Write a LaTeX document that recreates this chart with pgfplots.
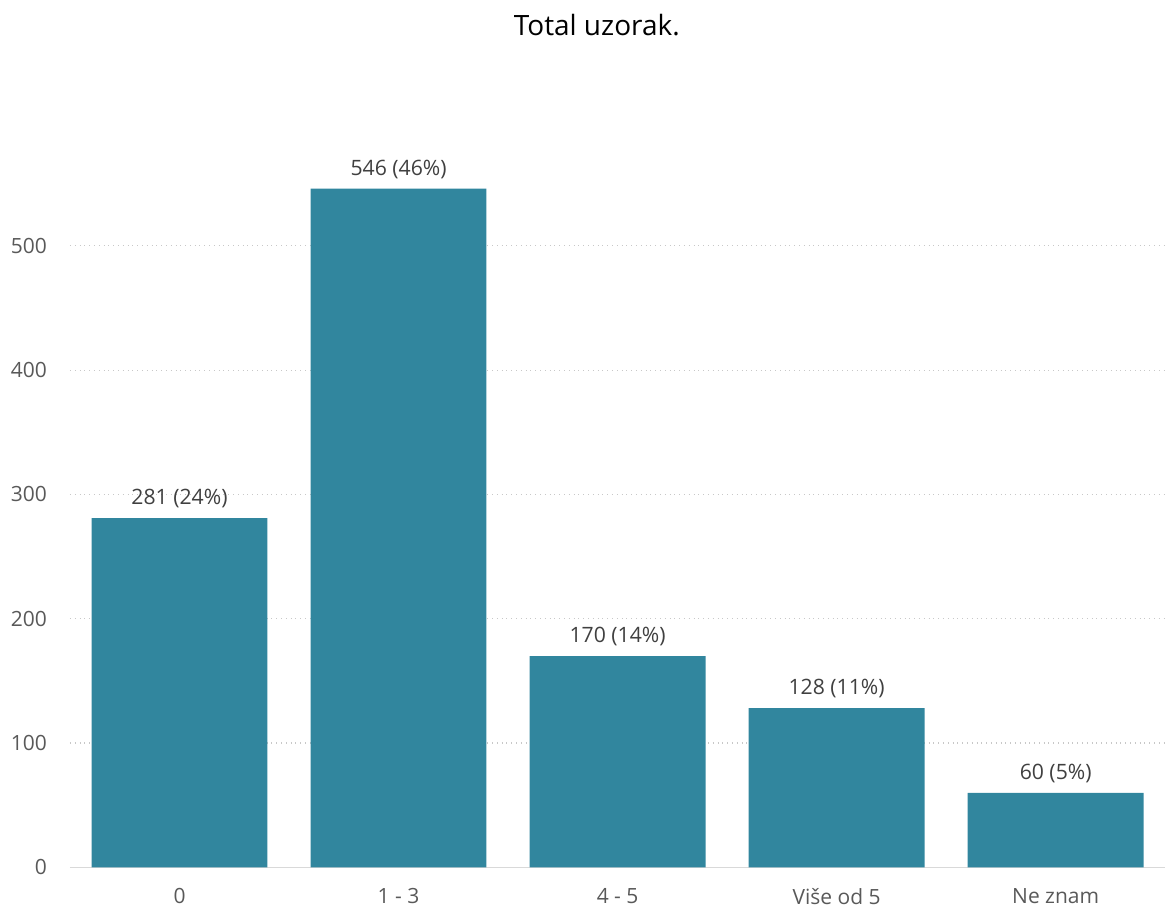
\documentclass[border=0pt]{standalone}
\usepackage{pgfplots}
\pgfplotsset{compat=1.18}
\usepackage{fontspec}
\setmainfont{Open Sans}
\definecolor{barc}{HTML}{31869E}
\definecolor{txt}{HTML}{404040}
\definecolor{tick}{HTML}{595959}
\definecolor{grid}{HTML}{C8C8C8}
\definecolor{axl}{HTML}{D9D9D9}
\begin{document}
\begin{tikzpicture}
\begin{axis}[
  scale only axis,
  width=548pt, height=373.2pt,
  xmin=-0.5, xmax=4.5, ymin=0, ymax=600,
  axis lines*=left,
  y axis line style={draw=none},
  x axis line style={draw=axl, line width=0.8pt, -},
  xtick={0,1,2,3,4},
  xticklabels={0, 1 - 3, 4 - 5, Više od 5, Ne znam},
  major tick length=0pt,
  tick style={draw=none},
  ytick={0,100,200,300,400,500},
  ymajorgrids, grid style={draw=grid, dotted, line width=0.6pt},
  xticklabel style={font=\fontsize{10.5}{12}\selectfont, text=tick, yshift=-10.5pt, inner sep=0pt},
  yticklabel style={font=\fontsize{10.5}{12}\selectfont, text=tick, xshift=-8pt},
  /pgf/number format/assume math mode=true,
  clip=false,
  ybar, bar width=88pt,
  nodes near coords,
  point meta=explicit symbolic,
  nodes near coords style={font=\fontsize{10.6}{12}\selectfont, text=txt, anchor=south, yshift=1.5pt},
]
\addplot[fill=barc, draw=none] table[meta=lab, col sep=comma] {
x,y,lab
0,281,281 (24\%)
1,546,546 (46\%)
2,170,170 (14\%)
3,128,128 (11\%)
4,60,60 (5\%)
};
\node[font=\fontsize{14}{16}\selectfont, text=black] at (axis description cs:0.481,1.1294) {Total uzorak.};
\path (axis description cs:-0.0639,-0.0576) rectangle (axis description cs:1.0,1.1629);
\end{axis}
\end{tikzpicture}
\end{document}
